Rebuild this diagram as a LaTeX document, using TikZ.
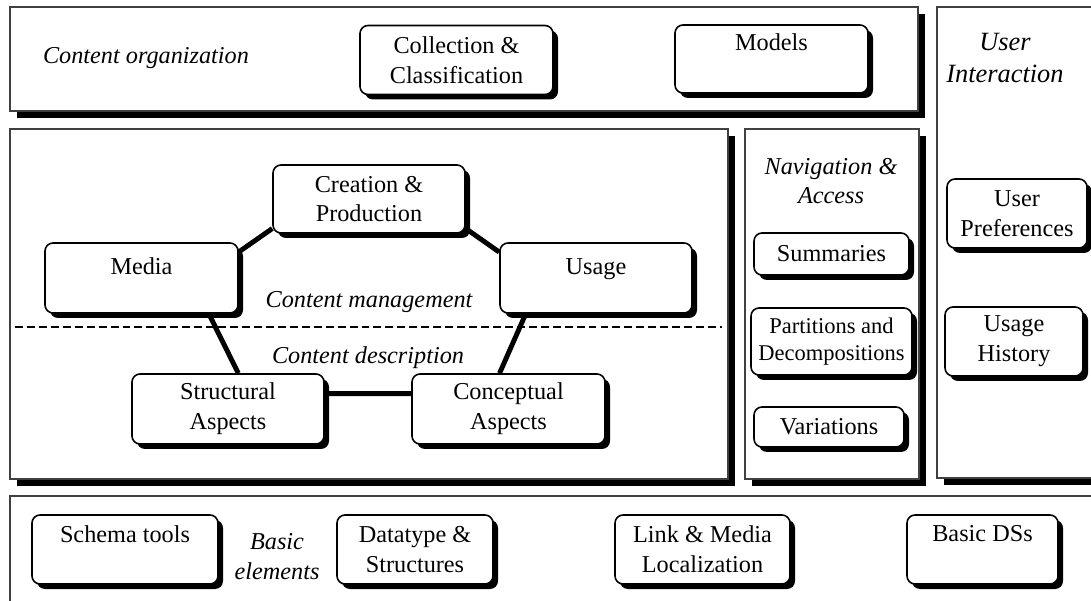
\documentclass[tikz,border=0pt]{standalone}
\usepackage{fontspec}
\setmainfont{Liberation Serif}
\usetikzlibrary{shadows}
\newcommand{\diafont}{\fontsize{13.8}{17}\selectfont}
\tikzset{
box/.style={draw, line width=0.9pt, fill=white, rounded corners=0.16cm, align=center, inner sep=1pt, font=\diafont, drop shadow={shadow xshift=0.1cm, shadow yshift=-0.1cm, fill=black, opacity=1}}, % rounded blocks
frame/.style={draw=black!75, line width=0.6pt, fill=white, inner sep=0pt, drop shadow={shadow xshift=0.14cm, shadow yshift=-0.14cm, fill=black, opacity=1}}, % the big areas
tag/.style={font=\diafont\itshape, align=center}, % area names
joint/.style={line width=2.8pt},
}
\begin{document}
\begin{tikzpicture}
    \useasboundingbox (0,0) rectangle (21.82,-12.02);
    % areas
    \node[frame, minimum width=18.16cm, minimum height=2.08cm] at (9.28,-1.18) (orgbox) {};
    \node[frame, minimum width=14.36cm, minimum height=7cm] at (7.38,-6.08) (mgmtbox) {};
    \node[frame, minimum width=3.48cm, minimum height=7cm] at (16.64,-6.08) (navbox) {};
    \node[frame, minimum width=3.46cm, minimum height=9.42cm] at (20.47,-4.85) (uibox) {};
    \node[frame, minimum width=22cm, minimum height=2.48cm] at (11.2,-11.16) (basicbox) {};
    % content organization
    \node[tag] at (2.92,-1.17) (orgtag) {Content organization};
    \node[box, minimum width=3.86cm, minimum height=1.38cm] at (9.13,-1.2) (collect) {Collection \&\\Classification};
    \node[box, minimum width=3.86cm, minimum height=1.36cm] at (15.43,-1.18) (models) {Models\\[-3pt]\strut};
    % content management / description
    \node[box, minimum width=3.84cm, minimum height=1.36cm] at (7.38,-3.98) (creation) {Creation \&\\Production};
    \node[box, minimum width=3.86cm, minimum height=1.4cm] at (2.83,-5.56) (media) {Media\\[-9pt]\strut};
    \node[box, minimum width=3.84cm, minimum height=1.4cm] at (11.92,-5.56) (usage) {Usage\\[-9pt]\strut};
    \node[box, minimum width=3.84cm, minimum height=1.4cm] at (4.56,-8.18) (struct) {Structural\\Aspects};
    \node[box, minimum width=3.86cm, minimum height=1.4cm] at (10.17,-8.18) (concept) {Conceptual\\Aspects};
    \node[tag] at (7.38,-6.04) (mgmttag) {Content management};
    \node[tag] at (7.36,-7.16) (desctag) {Content description};
    \coordinate (sepL) at (0.3,-6.54);
    \coordinate (sepR) at (14.44,-6.54);
    % navigation & access
    \node[tag] at (16.62,-3.62) (navtag) {Navigation \&\\Access};
    \node[box, minimum width=3.1cm, minimum height=0.84cm] at (16.63,-5.08) (summ) {Summaries};
    \node[box, minimum width=3.22cm, minimum height=1.34cm, font=\fontsize{12.8}{15.5}\selectfont] at (16.63,-6.83) (parts) {Partitions and\\Decompositions};
    \node[box, minimum width=3cm, minimum height=0.8cm] at (16.58,-8.54) (vars) {Variations};
    % user interaction
    \node[tag, font=\fontsize{15}{18}\selectfont\itshape] at (20.1,-1.16) (uitag) {User\\Interaction};
    \node[box, minimum width=2.8cm, minimum height=1.38cm] at (20.34,-4.27) (upref) {User\\Preferences};
    \node[box, minimum width=2.76cm, minimum height=1.38cm] at (20.28,-6.83) (uhist) {Usage\\History};
    % basic elements
    \node[box, minimum width=3.72cm, minimum height=1.38cm] at (2.5,-10.99) (schema) {Schema tools\\[-4pt]\strut};
    \node[tag] at (5.54,-11.14) (basictag) {Basic\\elements};
    \node[box, minimum width=3.12cm, minimum height=1.38cm] at (8.3,-10.99) (dtype) {Datatype \&\\Structures};
    \node[box, minimum width=3.5cm, minimum height=1.38cm] at (14.05,-10.99) (linkloc) {Link \& Media\\Localization};
    \node[box, minimum width=3.02cm, minimum height=1.38cm] at (19.65,-10.99) (basicds) {Basic DSs\\[-4pt]\strut};
    \draw[dashed, dash pattern=on 4.5pt off 2.3pt, line width=0.6pt] (sepL) -- (sepR);
    \draw[joint]
    (media.15) -- (creation.197)
    (creation.343) -- (usage.165)
    (media.332) -- (struct.74)
    (usage.207) -- (concept.104)
    (struct.9) -- (concept.171)
    ;
\end{tikzpicture}
\end{document}
